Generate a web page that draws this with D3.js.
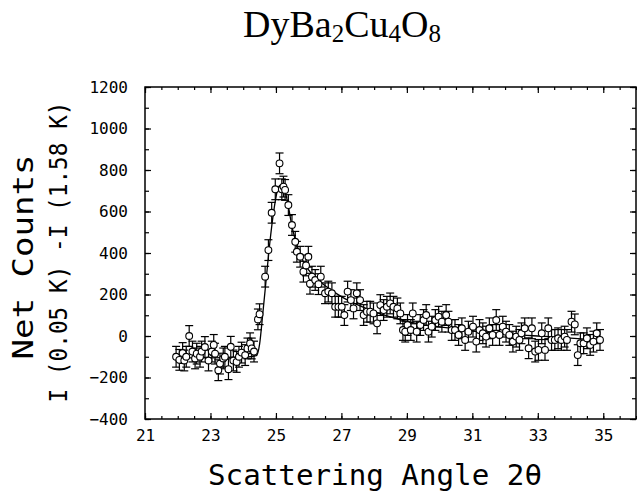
<!DOCTYPE html>
<html>
<head>
<meta charset="utf-8">
<script src="https://d3js.org/d3.v7.min.js"></script>
<style>
  body { margin: 0; background: #fff; }
  .tick text { font-family: "DejaVu Sans Mono", monospace; font-size: 16px; fill: #000; }
</style>
</head>
<body>
<div id="chart_div"></div>
<script>
const angles = [21.95, 22.05, 22.15, 22.2, 22.26, 22.35, 22.45, 22.53, 22.58, 22.68,
  22.73, 22.83, 22.94, 23.04, 23.1, 23.14, 23.24, 23.29, 23.39, 23.44,
  23.55, 23.62, 23.7, 23.8, 23.87, 23.95, 24.06, 24.13, 24.21, 24.26,
  24.33, 24.45, 24.5, 24.67, 24.77, 24.87, 24.98, 25.11, 25.18, 25.23,
  25.28, 25.38, 25.49, 25.59, 25.64, 25.74, 25.84, 25.92, 25.99, 26.04,
  26.1, 26.2, 26.3, 26.37, 26.5, 26.6, 26.71, 26.81, 26.91, 27.01,
  27.09, 27.19, 27.29, 27.37, 27.47, 27.57, 27.68, 27.78, 27.88, 27.98,
  28.09, 28.19, 28.29, 28.39, 28.49, 28.59, 28.71, 28.8, 28.88, 28.95,
  29.02, 29.12, 29.18, 29.3, 29.41, 29.51, 29.59, 29.66, 29.76, 29.87,
  29.97, 30.07, 30.2, 30.27, 30.37, 30.47, 30.58, 30.68, 30.78, 30.88,
  31.02, 31.12, 31.22, 31.32, 31.42, 31.52, 31.62, 31.73, 31.83, 31.93,
  32.03, 32.13, 32.24, 32.34, 32.44, 32.5, 32.6, 32.72, 32.82, 32.92,
  33.02, 33.12, 33.22, 33.32, 33.42, 33.52, 33.62, 33.72, 33.82, 33.89,
  34.03, 34.13, 34.22, 34.3, 34.4, 34.5, 34.6, 34.7, 34.8, 34.9];
const counts = [-100, -115, -82, -118, -100, 0, -75, -108, -85, -100,
  -75, -53, -118, -75, -43, -85, -165, -133, -108, -100,
  -160, -52, -118, -125, -100, -80, -92, -60, -35, -60,
  -75, 80, 105, 286, 414, 594, 707, 832, 707, 720,
  704, 631, 535, 454, 406, 382, 310, 340, 382, 252,
  286, 270, 250, 286, 206, 214, 206, 141, 141, 141,
  101, 214, 173, 133, 206, 173, 101, 117, 117, 109,
  61, 149, 125, 141, 157, 141, 133, 109, 29, 21,
  53, 29, 109, 21, 53, 77, 101, 21, 45, 77,
  93, 69, 101, 69, 29, 29, 5, 37, -19, 21,
  45, -27, 29, 13, -3, 37, 5, 77, 5, 45,
  21, 5, -27, -3, -19, 13, 37, -59, 37, -75,
  -67, 13, -67, 37, -19, -19, -11, -19, -3, -19,
  69, 56, -92, -35, -35, -11, -43, -27, 13, -19];
const errorBar = 50;

// fitted curve
const fitAngles = [21.95, 23.0, 24.0, 24.4, 24.5, 24.6, 24.7, 24.8, 24.95, 25.07,
  25.15, 25.25, 25.35, 25.5, 25.7, 25.9, 26.1, 26.4, 26.7, 27.0,
  27.5, 28.0, 28.5, 29.0, 29.5, 30.0, 30.5, 31.0, 32.0, 33.0, 34.0, 34.9];
const fitCounts = [-105, -105, -103, -95, -40, 110, 270, 430, 620, 715,
  728, 712, 650, 520, 410, 340, 300, 255, 220, 190,
  150, 118, 92, 70, 55, 44, 34, 25, 10, 0, -10, -20];

const xTicks = [21, 23, 25, 27, 29, 31, 33, 35];
const yTicks = [-400, -200, 0, 200, 400, 600, 800, 1000, 1200];

// set the dimensions and margins of the graph
const chart_margin = {top: 87, right: 1, bottom: 73, left: 145},
    chart_width = 637 - chart_margin.left - chart_margin.right,
    chart_height = 492 - chart_margin.top - chart_margin.bottom;

const svg = d3.select("#chart_div")
  .append("svg")
    .attr("width", 637)
    .attr("height", 492);

const chart = svg.append("g")
    .attr("transform", `translate(${chart_margin.left}, ${chart_margin.top})`);

// scales
const x = d3.scaleLinear().domain([21, 36]).range([0, chart_width]);
const y = d3.scaleLinear().domain([-400, 1200]).range([chart_height, 0]);

const xMinor = d3.range(21, 36.01, 0.5);
const yMinor = d3.range(-400, 1201, 100);

// minor ticks, all four sides, pointing inward
chart.append("g").attr("transform", `translate(0, ${chart_height})`)
  .call(d3.axisBottom(x).tickValues(xMinor).tickSize(-3).tickFormat(""))
  .call(g => g.select(".domain").remove());
chart.append("g")
  .call(d3.axisTop(x).tickValues(xMinor).tickSize(-3).tickFormat(""))
  .call(g => g.select(".domain").remove());
chart.append("g")
  .call(d3.axisLeft(y).tickValues(yMinor).tickSize(-4).tickFormat(""))
  .call(g => g.select(".domain").remove());
chart.append("g").attr("transform", `translate(${chart_width}, 0)`)
  .call(d3.axisRight(y).tickValues(yMinor).tickSize(-4).tickFormat(""))
  .call(g => g.select(".domain").remove());

// major ticks with labels
chart.append("g").attr("transform", `translate(0, ${chart_height})`)
  .call(d3.axisBottom(x).tickValues(xTicks).tickSize(-6).tickPadding(11).tickFormat(d3.format("d")))
  .call(g => g.select(".domain").remove());
chart.append("g")
  .call(d3.axisTop(x).tickValues(xTicks).tickSize(-6).tickFormat(""))
  .call(g => g.select(".domain").remove());
chart.append("g")
  .call(d3.axisLeft(y).tickValues(yTicks).tickSize(-6).tickPadding(17).tickFormat(d3.format("d")))
  .call(g => g.select(".domain").remove());
chart.append("g").attr("transform", `translate(${chart_width}, 0)`)
  .call(d3.axisRight(y).tickValues(yTicks).tickSize(-6).tickFormat(""))
  .call(g => g.select(".domain").remove());

chart.selectAll(".tick line").attr("stroke", "#000").attr("stroke-width", 1.2);

// frame
chart.append("rect")
  .attr("width", chart_width)
  .attr("height", chart_height)
  .attr("fill", "none")
  .attr("stroke", "#000")
  .attr("stroke-width", 1.5);

// fitted line
const fitData = fitAngles.map((a, i) => ({a: a, c: fitCounts[i]}));
chart.append("path")
  .datum(fitData)
  .attr("fill", "none")
  .attr("stroke", "#000")
  .attr("stroke-width", 1.3)
  .attr("d", d3.line()
    .x(d => x(d.a))
    .y(d => y(d.c))
    .curve(d3.curveMonotoneX));

// error bars
const pts = angles.map((a, i) => ({a: a, c: counts[i]}));
const bars = chart.append("g").attr("stroke", "#000").attr("stroke-width", 1.2);
bars.selectAll(".vbar").data(pts).join("line")
  .attr("x1", d => x(d.a)).attr("x2", d => x(d.a))
  .attr("y1", d => y(d.c - errorBar)).attr("y2", d => y(d.c + errorBar));
bars.selectAll(".capTop").data(pts).join("line")
  .attr("x1", d => x(d.a) - 4).attr("x2", d => x(d.a) + 4)
  .attr("y1", d => y(d.c + errorBar)).attr("y2", d => y(d.c + errorBar));
bars.selectAll(".capBot").data(pts).join("line")
  .attr("x1", d => x(d.a) - 4).attr("x2", d => x(d.a) + 4)
  .attr("y1", d => y(d.c - errorBar)).attr("y2", d => y(d.c - errorBar));

// open circles
chart.append("g").selectAll("circle").data(pts).join("circle")
  .attr("cx", d => x(d.a))
  .attr("cy", d => y(d.c))
  .attr("r", 3.4)
  .attr("fill", "#fff")
  .attr("stroke", "#000")
  .attr("stroke-width", 1.1);

// title
const title = svg.append("text")
  .attr("x", 342)
  .attr("y", 42)
  .attr("text-anchor", "middle")
  .style("font-family", "'Liberation Serif', 'Times New Roman', serif")
  .style("font-size", "38px");
[["DyBa", false], ["2", true], ["Cu", false], ["4", true], ["O", false], ["8", true]].forEach(p => {
  title.append("tspan")
    .attr("dy", p[1] ? 5 : (title.selectAll("tspan").size() ? -5 : 0))
    .style("font-size", p[1] ? "25px" : "38px")
    .text(p[0]);
});

// axis labels
svg.append("text")
  .attr("x", 375)
  .attr("y", 485)
  .attr("text-anchor", "middle")
  .attr("textLength", 334)
  .attr("lengthAdjust", "spacingAndGlyphs")
  .style("font-family", "'DejaVu Sans Mono', monospace")
  .style("font-size", "29px")
  .text("Scattering Angle 2θ");

svg.append("text")
  .attr("transform", "translate(33, 257) rotate(-90)")
  .attr("text-anchor", "middle")
  .attr("textLength", 205)
  .attr("lengthAdjust", "spacingAndGlyphs")
  .style("font-family", "'DejaVu Sans Mono', monospace")
  .style("font-size", "29px")
  .text("Net Counts");

svg.append("text")
  .attr("transform", "translate(67, 252) rotate(-90)")
  .attr("text-anchor", "middle")
  .attr("textLength", 301)
  .attr("lengthAdjust", "spacingAndGlyphs")
  .style("font-family", "'DejaVu Sans Mono', monospace")
  .style("font-size", "24px")
  .text("I (0.05 K) -I (1.58 K)");
</script>
</body>
</html>
